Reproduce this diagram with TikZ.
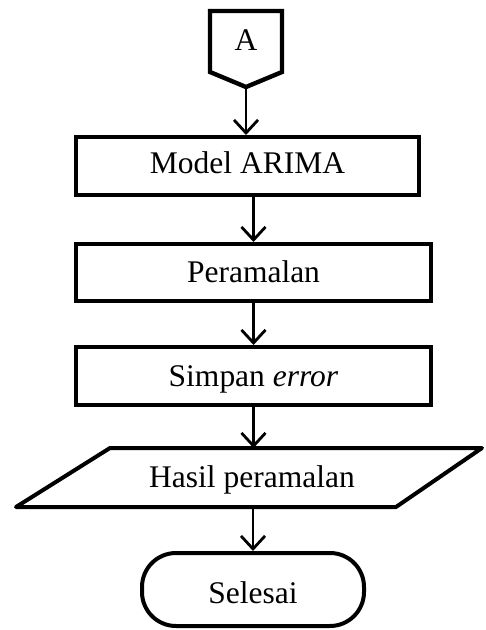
\documentclass[tikz,border=0pt]{standalone}
\usepackage{fontspec}
\setmainfont{Liberation Serif}
\usetikzlibrary{arrows.meta,calc}
\begin{document}
\begin{tikzpicture}[x=1pt,y=-1pt,
  label text/.style={font=\fontsize{31.5pt}{36pt}\selectfont, text height=20.8pt, text depth=0pt, inner sep=0pt},
  procline/.style={line width=4pt},
  procbox/.style={label text, draw, procline},
  terminal/.style={procbox, rounded corners=34pt},
  flowarrow/.style={line width=2.8pt, -{Straight Barb[length=13pt,width=24pt]}}]
\useasboundingbox (0,0) rectangle (486,630);

% off-page connector
\draw[line width=4.4pt, line join=miter] (210,11) -- (282,11) -- (282,72) -- (246,87) -- (210,72) -- cycle;
\node[label text] (a) at (246,40) {A};
\coordinate (atip) at (246,87);

% process steps
\node[procbox, minimum width=343pt, minimum height=58pt, text height=22pt, text depth=7.2pt] (m) at (247.5,166) {Model ARIMA};
\node[procbox, minimum width=355pt, minimum height=57pt] (p) at (253.5,272.5) {Peramalan};
\node[procbox, minimum width=355pt, minimum height=58pt] (s) at (253.5,376) {Simpan \textit{error}};

% output (parallelogram around the text node)
\node[label text, minimum height=59pt, outer sep=0pt] (o) at (252,477.5) {Hasil peramalan};
\draw[procline, line join=round] ($(o.north)+(-142,0)$) -- ($(o.north)+(230,0)$)
  -- ($(o.south)+(144,0)$) -- ($(o.south)+(-236,0)$) -- cycle;

% end terminal
\node[terminal, minimum width=222pt, minimum height=73pt, text height=28.8pt] (e) at (253,589.5) {Selesai};

% flow
\draw[flowarrow] (atip) -- (atip |- m.north);
\draw[flowarrow] (m.south -| p) -- (p.north);
\draw[flowarrow] (p.south) -- (s.north);
\draw[flowarrow] (s.south) -- (s.south |- o.north);
\draw[flowarrow] (o.south -| e) -- (e.north);
\end{tikzpicture}
\end{document}
